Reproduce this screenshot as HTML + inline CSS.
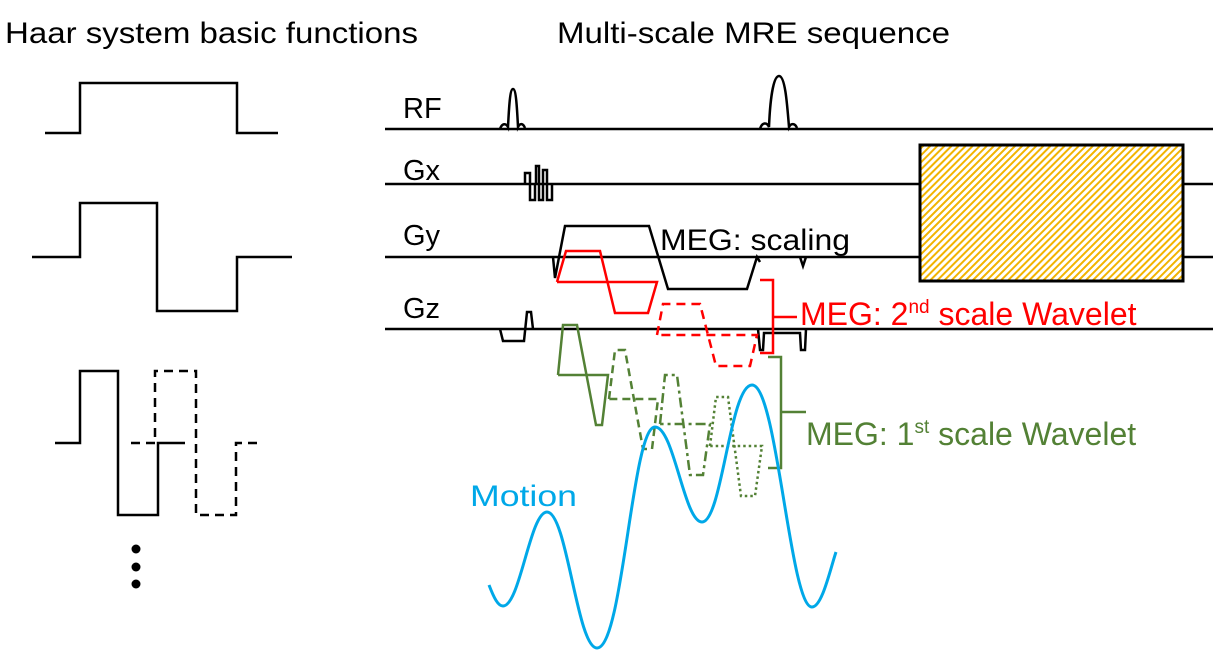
<!DOCTYPE html>
<html><head><meta charset="utf-8"><style>
html,body{margin:0;padding:0;background:#fff;}
svg{display:block;}
text{font-family:"Liberation Sans",sans-serif;}
</style></head><body>
<svg width="1225" height="653" viewBox="0 0 1225 653" xmlns="http://www.w3.org/2000/svg">
<defs>
<pattern id="h" patternUnits="userSpaceOnUse" width="5" height="5" patternTransform="rotate(45)">
<rect width="5" height="5" fill="#fff"/><rect width="2" height="5" fill="#f2b400"/>
</pattern>
</defs>
<text x="5" y="43" font-size="30" textLength="413" lengthAdjust="spacingAndGlyphs">Haar system basic functions</text>
<text x="557" y="43" font-size="30" textLength="393" lengthAdjust="spacingAndGlyphs">Multi-scale MRE sequence</text>

<g fill="none" stroke="#000" stroke-width="2.5">
<path d="M45 133H80V83H237V133H278"/>
<path d="M32 257H80V203H157V311H237V257H292"/>
<path d="M55 443H80V371H118V515H158V443H185"/>
<path d="M131 443H155V371H196V515H236V443H258" stroke-dasharray="9 6"/>
</g>
<circle cx="136" cy="549" r="4.5"/><circle cx="136" cy="567" r="4.5"/><circle cx="136" cy="584" r="4.5"/>

<g font-size="29">
<text x="403" y="118">RF</text>
<text x="403" y="180">Gx</text>
<text x="403" y="245">Gy</text>
<text x="403" y="318">Gz</text>
</g>

<rect x="920" y="145" width="263" height="136" fill="url(#h)" stroke="#000" stroke-width="3"/>
<g fill="none" stroke="#000" stroke-width="2.5">
<path d="M385 129H1213"/>
<path d="M385 184H920M1183 184H1213"/>
<path d="M385 257H920M1183 257H1213"/>
<path d="M385 329H1213"/>
<path d="M500 129c2-6 6-6 8 -2c1-20 2-38 5-38c3 0 4 18 5 38c2-4 5-4 7 1"/>
<path d="M760 129c2-7 7-7 9 -2c1-25 4-51 10-51c6 0 8 26 10 51c2-4 6-4 8 1"/>
<path d="M525 184V173H530V200H535V184M536 184V166H539V200H543V170H547V200H552V184"/>
<path d="M553 257L555 278L565 226H649L668 289H747L757 257L760 262M800 257L803 266L806 257"/>
<path d="M500 329L503 341H524L527 312H531L533 329"/>
<path d="M758 329L760 350H763L764 333H800L801 350H805L806 329"/>
</g>
<g fill="none" stroke="#ff0000" stroke-width="2.5">
<path d="M557 282L566 251H600L615 313H648L657 282H557"/>
<path d="M657 335L663 304H700L716 366H750L757 335H657" stroke-dasharray="9 6"/>
<path d="M760 280H773V353H760M773 317H797"/>
</g>
<text x="800" y="325" font-size="32" fill="#ff0000">MEG: 2<tspan font-size="19" dy="-12">nd</tspan><tspan dy="12"> scale Wavelet</tspan></text>
<text x="660" y="250" font-size="30" textLength="190" lengthAdjust="spacingAndGlyphs">MEG: scaling</text>

<g fill="none" stroke="#538135" stroke-width="2.5">
<path d="M558 375L563 325H577L596 425H602L608 375H558"/>
<path d="M609 399L615 350H625L643 449H652L658 399H609" stroke-dasharray="8 5"/>
<path d="M660 424L665 375H677L690 475H703L710 424H660" stroke-dasharray="10 4 3 4"/>
<path d="M710 446L716 397H728L741 496H755L762 446H710" stroke-dasharray="2.5 3"/>
<path d="M768 357H781V468H768M781 412H806"/>
</g>
<text x="806" y="445" font-size="32" fill="#538135">MEG: 1<tspan font-size="19" dy="-12">st</tspan><tspan dy="12"> scale Wavelet</tspan></text>

<path fill="none" stroke="#00a8e8" stroke-width="3" d="M489 585C494 598 498 606 503 606C520 606 530 512 547 512C567 512 577 648 597 648C623 648 632 427 655 427C674 427 684 522 702 522C722 522 730 385 752 385C777 385 790 607 812 607C822 607 830 570 836 552"/>
<text x="470" y="506" font-size="30" fill="#00a8e8" textLength="107" lengthAdjust="spacingAndGlyphs">Motion</text>
</svg>
</body></html>
